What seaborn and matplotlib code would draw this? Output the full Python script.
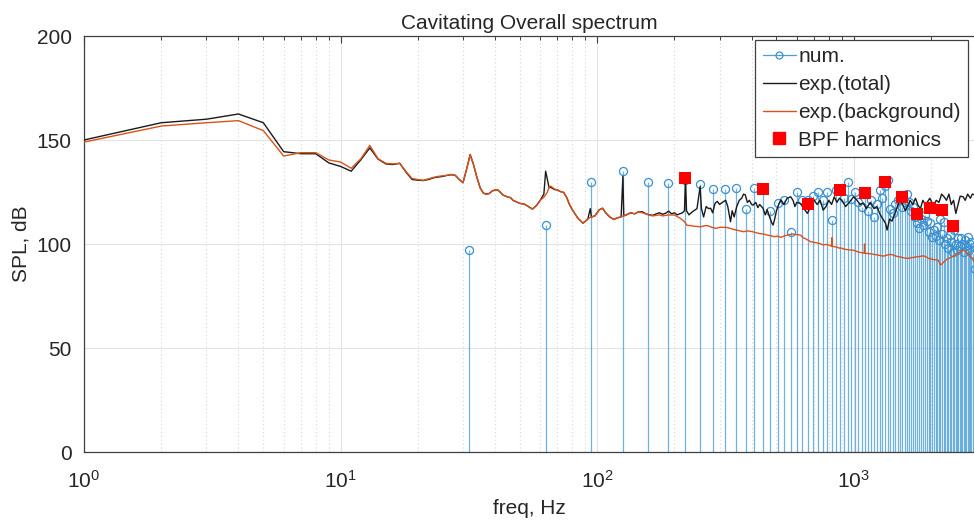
import numpy as np
import pandas as pd
import matplotlib
matplotlib.use("Agg")
import matplotlib.pyplot as plt
import seaborn as sns
from matplotlib.lines import Line2D
from matplotlib.legend_handler import HandlerLine2D
from matplotlib.ticker import LogLocator, NullFormatter

# ---------------- data ----------------
num_freq = [31.6, 63.1, 94.7, 126.3, 157.9, 189.4, 221.0, 252.6, 284.1, 315.7,
            347.3, 378.8, 410.4, 442.0, 473.6, 505.1, 536.7, 568.3, 599.8, 631.4,
            663.0, 694.5, 726.1, 757.7, 789.3, 820.8, 852.4, 884.0, 915.5, 947.1,
            978.7, 1010.2, 1041.8, 1073.4, 1105.0, 1136.5, 1168.1, 1199.7, 1231.2, 1262.8,
            1294.4, 1325.9, 1357.5, 1389.1, 1420.7, 1452.2, 1483.8, 1515.4, 1546.9, 1578.5,
            1610.1, 1641.6, 1673.2, 1704.8, 1736.4, 1767.9, 1799.5, 1831.1, 1862.6, 1894.2,
            1925.8, 1957.3, 1988.9, 2020.5, 2052.1, 2083.6, 2115.2, 2146.8, 2178.3, 2209.9,
            2241.5, 2273.0, 2304.6, 2336.2, 2367.8, 2399.3, 2430.9, 2462.5, 2494.0, 2525.6,
            2557.2, 2588.7, 2620.3, 2651.9, 2683.5, 2715.0, 2746.6, 2778.2, 2809.7, 2841.3,
            2872.9, 2904.4, 2936.0, 2967.6]
num_spl = [97, 109, 130, 135, 130, 129.5, 131, 129, 126.3, 126.3,
           127, 117, 127, 126, 116, 119.5, 121, 106, 125, 121,
           121, 123, 125, 121, 125, 111.5, 126, 126, 122, 129.6,
           121.5, 125, 120, 118, 124, 116, 121, 113, 119, 126,
           122, 128, 131, 117, 115, 119, 121, 122, 118, 120,
           124, 120, 116, 118, 113, 110, 107.5, 112, 109, 114,
           111, 106, 110, 103.5, 106.7, 104, 108.3, 102, 112, 105,
           110.7, 100, 103, 98, 104.3, 101, 96, 106.7, 100, 97,
           103, 99, 102.7, 100, 96, 102, 99, 103.5, 97, 100,
           101, 95, 98.7, 88]

tot_freq = [1, 2, 3, 4, 5, 6, 7, 8, 9, 10, 11, 12, 13, 14, 15, 16, 17, 18, 19, 20,
            21, 22, 23, 24, 25, 26, 27, 28, 29, 30, 31, 32, 33, 34, 35, 36, 37, 38, 39, 40,
            41, 42, 43, 44, 45, 46, 47, 48, 50, 52, 54, 56, 58, 60, 62, 63, 64, 65, 66, 68,
            70, 72, 74, 76, 78, 80, 84, 88, 90, 92, 94, 95, 98, 102, 105, 108, 112, 116, 120, 124,
            126, 127, 130, 135, 140, 145, 150, 155, 160, 165, 170, 175, 180, 185, 190, 195, 200, 205, 210, 215,
            219, 221, 223, 228, 235, 245, 252, 255, 260, 266, 272, 277, 282, 288, 294, 300, 310, 317, 323, 331,
            336, 342, 350, 358, 366, 372, 378, 385, 392, 400, 406, 415, 423, 430, 443, 452, 460, 470, 480, 485,
            492, 500, 510, 520, 535, 550, 568, 580, 590, 600, 620, 640, 660, 680, 700, 720, 740, 760, 780, 800,
            820, 840, 860, 880, 900, 930, 960, 1000, 1030, 1060, 1090, 1120, 1160, 1200, 1230, 1270, 1300, 1330, 1350, 1380,
            1410, 1440, 1470, 1510, 1550, 1590, 1620, 1660, 1700, 1740, 1780, 1820, 1860, 1900, 1940, 1980, 2040, 2100, 2150, 2200,
            2250, 2300, 2350, 2400, 2450, 2500, 2550, 2600, 2670, 2720, 2780, 2850, 2900, 2960]
tot_spl = [150, 158.3, 160, 162.5, 158.3, 144.4, 143.4, 143.4, 139, 137.3, 135, 140.5, 146.2, 140.8, 138.5, 138.2, 138.8, 134.5, 131, 130.7,
           130.5, 131, 131.8, 132.2, 132.5, 133, 133.3, 133, 131, 129.5, 136, 143, 138, 132, 127, 124.5, 124, 124.3, 125.5, 126,
           126, 124.8, 123.5, 123, 122.5, 122.3, 121, 120.5, 119.5, 119.2, 118, 116.8, 118.5, 121, 124, 135, 131, 127, 127.3, 126.2,
           126, 125.2, 124.8, 122.5, 119, 116.5, 112.5, 110, 111, 112, 117, 113, 113.5, 116.5, 117.2, 115, 113, 111.8, 112.6, 113,
           132.5, 113.5, 114, 115, 114.5, 115.5, 115.5, 114.5, 114, 113.8, 114.5, 115, 114.3, 114.8, 115.8, 114.5, 115, 114, 114.5, 115,
           116, 132.4, 116, 114, 115.5, 117, 127.6, 117, 113, 118, 117, 117.2, 115, 119.5, 120.5, 119, 120.3, 121, 118, 110.7,
           116, 113, 118, 121, 122, 124, 123.6, 120, 121, 119, 118.7, 120, 117.5, 119, 117.2, 114, 116.5, 113, 110, 109.1,
           112, 116, 119, 121.2, 119, 122, 122.7, 121, 118, 120, 119.5, 117, 114.7, 118, 121.2, 119, 121, 116.3, 118, 121,
           119, 122.7, 120, 122, 121, 118, 120, 122.7, 121, 119, 119.7, 117, 120, 117, 118, 114, 112, 110, 106.7, 112,
           111, 113.9, 117, 121.2, 119, 116, 118, 121, 119, 122, 118.7, 117, 121, 119, 120.3, 122, 118.7, 121, 120, 124,
           122.7, 121, 124, 119, 121, 114.7, 119, 123, 122.7, 121, 124, 122, 124, 123.6]

bg_freq = [1, 2, 3, 4, 5, 6, 7, 8, 9, 10, 11, 12, 13, 14, 15, 16, 17, 18, 19, 20,
           21, 22, 23, 24, 25, 26, 27, 28, 29, 30, 31, 32, 33, 34, 35, 36, 37, 38, 39, 40,
           41, 42, 43, 44, 45, 46, 47, 48, 50, 52, 54, 56, 58, 60, 62, 63, 64, 65, 66, 68,
           70, 72, 74, 76, 78, 80, 84, 88, 90, 92, 94, 95, 98, 102, 105, 108, 112, 116, 120, 124,
           126, 130, 135, 140, 145, 150, 155, 160, 165, 170, 175, 180, 190, 200, 210, 218, 224, 232, 240, 254,
           262, 270, 280, 290, 300, 320, 340, 355, 372, 385, 400, 415, 430, 445, 460, 475, 490, 505, 520, 540,
           560, 580, 600, 620, 635, 650, 665, 680, 700, 720, 740, 760, 780, 800, 820, 822, 824, 840, 860, 880,
           900, 920, 945, 970, 1000, 1025, 1050, 1080, 1100, 1102, 1104, 1120, 1160, 1200, 1230, 1260, 1285, 1310, 1335, 1360,
           1390, 1420, 1450, 1480, 1515, 1550, 1585, 1620, 1660, 1700, 1730, 1760, 1800, 1840, 1870, 1900, 1930, 1960, 2000, 2050,
           2090, 2130, 2160, 2180, 2210, 2250, 2290, 2330, 2390, 2450, 2500, 2550, 2610, 2670, 2710, 2750, 2800, 2850, 2900, 2930,
           2960]
bg_spl = [149, 156.7, 158.3, 159.3, 154.5, 142.3, 143.9, 143.9, 140.4, 139.4, 136.4, 141, 147.4, 141, 138.8, 138.5, 138.8, 134.8, 131.5, 131,
          130.6, 131.3, 132, 132.5, 132.8, 133, 133.5, 133, 131, 129.5, 136, 143, 138, 132, 127, 124.5, 123.8, 124.3, 125.5, 126,
          126, 124.8, 123.5, 123, 122.5, 122.3, 121, 120.5, 119.5, 119.2, 118, 116.8, 118.5, 121, 122.5, 123.6, 125, 127.5, 127.8, 126.5,
          126, 125.2, 124.8, 122.5, 119, 116.5, 112.5, 110, 111, 112, 112.8, 113, 113.5, 116.5, 117.2, 115, 113, 111.8, 112.6, 113,
          113.5, 114, 115, 114.5, 115.5, 115, 114.5, 113.8, 113.5, 113.8, 114, 113.5, 114, 113.9, 112.5, 111, 109, 108.8, 108.5, 108.3,
          108.8, 108.8, 108, 107.5, 108, 108, 107, 106.5, 105.9, 106.3, 106, 105.5, 105, 104.8, 104.3, 104, 103.5, 103.8, 103.2, 104,
          104.5, 104.8, 104.5, 104.3, 103, 102.5, 101.8, 101.1, 100.8, 100.5, 100.2, 99.5, 99.8, 99.5, 99, 103, 99, 98.7, 98.5, 98,
          98, 97.5, 97.3, 97.1, 97, 96.5, 96, 95.8, 95.5, 100, 95.5, 95.5, 95.3, 95, 94.8, 94.5, 94.3, 94.2, 94.5, 94.8,
          95, 94.8, 94.3, 94, 93.8, 93.5, 93.2, 93.1, 93.3, 93.5, 93.7, 93.8, 94, 94.2, 94.3, 94, 93.5, 93, 92.8, 92.5,
          92.4, 92.3, 91, 89.9, 90.5, 91.5, 92.3, 93, 93.5, 94.2, 94.8, 95.5, 96.3, 97.1, 96.5, 96, 95, 94, 93, 92,
          90.9]

bpf_freq = [221, 442, 663, 884, 1105, 1326, 1547, 1768, 1989, 2210, 2431]
bpf_spl = [131.6, 126.4, 119.2, 126.0, 124.7, 129.8, 122.4, 114.4, 117.5, 116.3, 108.8]

labels = ["num.", "exp.(total)", "exp.(background)", "BPF harmonics"]
title = "Cavitating Overall spectrum"
xlabel = "freq, Hz"
ylabel = "SPL, dB"

# ---------------- style ----------------
sns.set_style("white")
plt.rcParams["font.family"] = ["Liberation Sans", "DejaVu Sans"]

C_STEM = "#4b9ed8"
C_MK = "#3a90d0"
C_TOT = "#1a1a1a"
C_BG = "#D95319"
AX_C = "#404040"

fig = plt.figure(figsize=(9.74, 5.26), dpi=100)
ax = fig.add_axes([84 / 974, 74 / 526, 891 / 974, 416 / 526])
ax.set_xscale("log")

# stems
ax.vlines(num_freq, 0, num_spl, color=C_STEM, lw=0.9, alpha=0.8, zorder=2)
ax.plot(num_freq, num_spl, "o", mfc="none", mec=C_MK, ms=5.8, mew=0.9, zorder=3)

df_tot = pd.DataFrame({"f": tot_freq, "spl": tot_spl})
df_bg = pd.DataFrame({"f": bg_freq, "spl": bg_spl})
sns.lineplot(data=df_tot, x="f", y="spl", ax=ax, color=C_TOT, lw=1.0,
             sort=False, estimator=None, zorder=4)
sns.lineplot(data=df_bg, x="f", y="spl", ax=ax, color=C_BG, lw=1.0,
             sort=False, estimator=None, zorder=5)
sns.scatterplot(x=bpf_freq, y=bpf_spl, ax=ax, marker="s", color="red",
                s=70, linewidth=0, zorder=6)

ax.set_xlim(1, 2970)
ax.set_ylim(0, 200)
ax.set_yticks([0, 50, 100, 150, 200])
ax.xaxis.set_major_locator(LogLocator(base=10, numticks=10))
ax.xaxis.set_minor_locator(LogLocator(base=10, subs=np.arange(2, 10), numticks=50))
ax.xaxis.set_minor_formatter(NullFormatter())

ax.grid(True, which="major", axis="both", color="#e3e3e3", lw=0.8, ls="-", zorder=0)
ax.grid(True, which="minor", axis="x", color="#d6d6d6", lw=0.8, ls=(0, (1, 2.5)), zorder=0)
ax.set_axisbelow(True)

for side in ["left", "bottom", "top"]:
    ax.spines[side].set_color(AX_C)
    ax.spines[side].set_linewidth(0.9)
ax.spines["right"].set_visible(False)
ax.tick_params(axis="both", which="both", direction="in", colors=AX_C,
               labelcolor="#262626", labelsize=15, top=True, right=False)
ax.tick_params(which="major", length=5, width=0.8)
ax.tick_params(which="minor", length=3, width=0.7)
ax.tick_params(axis="x", pad=13)
ax.tick_params(axis="y", pad=9)

ax.set_title(title, fontsize=15, color="#262626", pad=5)
ax.set_xlabel(xlabel, fontsize=15, color="#262626", labelpad=5)
ax.set_ylabel(ylabel, fontsize=15, color="#262626", labelpad=4)


class StemHandler(HandlerLine2D):
    def get_xdata(self, legend, xdescent, ydescent, width, height, fontsize):
        xdata = np.array([-xdescent, -xdescent + width])
        return xdata, np.array([-xdescent + width])


h_num = Line2D([], [], color=C_STEM, lw=0.9, marker="o", mfc="none", mec=C_MK, ms=5, mew=0.9)
h_tot = Line2D([], [], color=C_TOT, lw=1.0)
h_bg = Line2D([], [], color=C_BG, lw=1.0)
h_bpf = Line2D([], [], ls="none", marker="s", color="red", ms=8)
leg = ax.legend([h_num, h_tot, h_bg, h_bpf], labels, loc="upper right",
                bbox_to_anchor=(0.992, 0.99), borderaxespad=0, fontsize=15,
                frameon=True, fancybox=False, framealpha=1, edgecolor=AX_C,
                handlelength=1.6, handletextpad=0.1, labelspacing=0.42,
                borderpad=0.35, handler_map={h_num: StemHandler()})
leg.get_frame().set_linewidth(0.9)
leg.set_zorder(10)

fig.savefig("out.png", dpi=100)
